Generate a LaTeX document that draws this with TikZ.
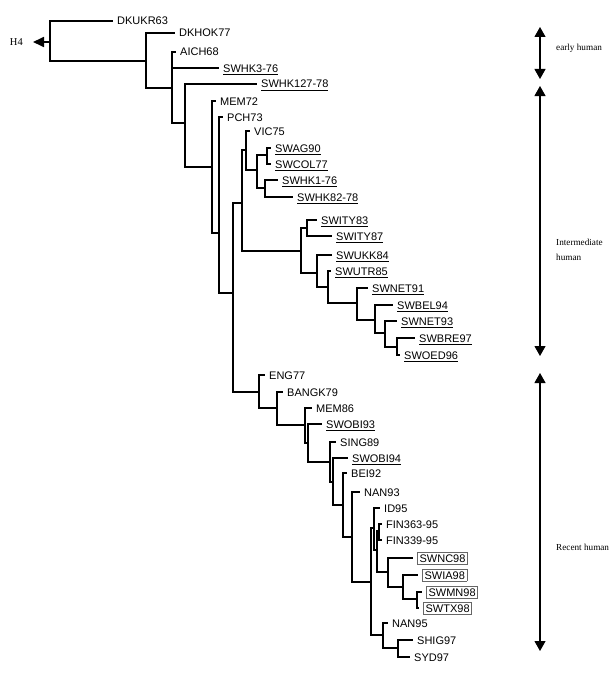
\documentclass[tikz,border=0pt]{standalone}
\usepackage{fontspec}
\setmainfont{Liberation Sans}
\newfontfamily\serifrm{Liberation Serif}
\usetikzlibrary{arrows.meta}
\newsavebox\ulnbox
\newcommand\uln[1]{\sbox\ulnbox{#1}\rlap{\rule[-2.6pt]{\wd\ulnbox}{0.8pt}}\usebox\ulnbox}
\newcommand\bxd[1]{{\setlength\fboxsep{1.8pt}\setlength\fboxrule{0.6pt}\fcolorbox{black!60}{white}{#1}}}
\begin{document}
\begin{tikzpicture}[x=1pt,y=-1pt,
  br/.style={line width=1.7pt},
  leaf/.style={anchor=west, inner xsep=4pt, inner ysep=0pt, text height=8pt, text depth=0pt, font=\fontsize{11}{13}\selectfont},
  side/.style={anchor=west, inner sep=0pt, align=left, font=\serifrm\fontsize{9.2}{15}\selectfont},
  rarrow/.style={line width=1.1pt, {Triangle[length=10pt,width=11pt]}-{Triangle[length=10pt,width=11pt]}}]
\useasboundingbox (0,0) rectangle (610,677);

% internal nodes
\coordinate (root) at (50,42);
\coordinate (A) at (146,61);
\coordinate (B) at (172,88);
\coordinate (C) at (185,123);
\coordinate (D) at (212,167);
\coordinate (E) at (219,233);
\coordinate (F) at (233,293);
\coordinate (G) at (242,203);
\coordinate (V) at (246,150);
\coordinate (W) at (257,170);
\coordinate (X) at (267,155);
\coordinate (Y) at (265,188);
\coordinate (I) at (301,251);
\coordinate (J) at (307,228);
\coordinate (K) at (317,273);
\coordinate (L) at (328,287);
\coordinate (M) at (357,303);
\coordinate (N) at (375,320);
\coordinate (O) at (385,333);
\coordinate (P9) at (397,347);
\coordinate (P) at (259,392);
\coordinate (Q) at (277,408);
\coordinate (R) at (305,425);
\coordinate (R2) at (308,443);
\coordinate (S) at (330,462);
\coordinate (S2) at (333,482);
\coordinate (T) at (343,505);
\coordinate (U) at (352,537);
\coordinate (V2) at (371,582);
\coordinate (W2) at (374,528);
\coordinate (W3) at (377,550);
\coordinate (F2) at (379,531);
\coordinate (SA) at (388,572);
\coordinate (SB) at (403,587);
\coordinate (SC) at (417,599);
\coordinate (Z) at (383,635);
\coordinate (Z2) at (398,648);

% leaves
\node[leaf] (dkukr) at (113,21) {DKUKR63};
\node[leaf] (dkhok) at (175,33) {DKHOK77};
\node[leaf] (aich) at (176,52) {AICH68};
\node[leaf] (swhk3) at (219,68) {\uln{SWHK3-76}};
\node[leaf] (swhk127) at (257,84) {\uln{SWHK127-78}};
\node[leaf] (mem72) at (216,101) {MEM72};
\node[leaf] (pch) at (223,117) {PCH73};
\node[leaf] (vic) at (250,131) {VIC75};
\node[leaf] (swag) at (271,148) {\uln{SWAG90}};
\node[leaf] (swcol) at (271,164) {\uln{SWCOL77}};
\node[leaf] (swhk1) at (278,180) {\uln{SWHK1-76}};
\node[leaf] (swhk82) at (293,197) {\uln{SWHK82-78}};
\node[leaf] (swity83) at (317,220) {\uln{SWITY83}};
\node[leaf] (swity87) at (332,236) {\uln{SWITY87}};
\node[leaf] (swukk) at (332,255) {\uln{SWUKK84}};
\node[leaf] (swutr) at (331,271) {\uln{SWUTR85}};
\node[leaf] (swnet91) at (368,288) {\uln{SWNET91}};
\node[leaf] (swbel) at (393,305) {\uln{SWBEL94}};
\node[leaf] (swnet93) at (397,321) {\uln{SWNET93}};
\node[leaf] (swbre) at (415,338) {\uln{SWBRE97}};
\node[leaf] (swoed) at (400,355) {\uln{SWOED96}};
\node[leaf] (eng) at (265,375) {ENG77};
\node[leaf] (bangk) at (283,392) {BANGK79};
\node[leaf] (mem86) at (312,408) {MEM86};
\node[leaf] (swobi93) at (322,424) {\uln{SWOBI93}};
\node[leaf] (sing) at (336,442) {SING89};
\node[leaf] (swobi94) at (348,458) {\uln{SWOBI94}};
\node[leaf] (bei) at (347,473) {BEI92};
\node[leaf] (nan93) at (360,492) {NAN93};
\node[leaf] (id95) at (380,508) {ID95};
\node[leaf] (fin363) at (382,524) {FIN363-95};
\node[leaf] (fin339) at (382,540) {FIN339-95};
\node[leaf] (swnc) at (413,558) {\bxd{SWNC98}};
\node[leaf] (swia) at (418,575) {\bxd{SWIA98}};
\node[leaf] (swmn) at (422,592) {\bxd{SWMN98}};
\node[leaf] (swtx) at (419,608) {\bxd{SWTX98}};
\node[leaf] (nan95) at (388,623) {NAN95};
\node[leaf] (shig) at (413,640) {SHIG97};
\node[leaf] (syd) at (410,657) {SYD97};

% outgroup arrow
\node[anchor=east, inner xsep=10pt, inner ysep=0pt, font=\serifrm\fontsize{10.5}{12}\selectfont] (h4) at (33,42) {H4};
\draw[br, -{Triangle[length=11pt,width=10pt]}] (root) -- (h4.east);

% branches
\draw[br] (root) |- (dkukr.west);
\draw[br] (root) |- (A);
\draw[br] (A) |- (dkhok.west);
\draw[br] (A) |- (B);
\draw[br] (B) |- (aich.west);
\draw[br] (B) |- (swhk3.west);
\draw[br] (B) |- (C);
\draw[br] (C) |- (swhk127.west);
\draw[br] (C) |- (D);
\draw[br] (D) |- (mem72.west);
\draw[br] (D) |- (E);
\draw[br] (E) |- (pch.west);
\draw[br] (E) |- (F);
\draw[br] (F) |- (G);
\draw[br] (F) |- (P);
\draw[br] (G) |- (V);
\draw[br] (G) |- (I);
\draw[br] (V) |- (vic.west);
\draw[br] (V) |- (W);
\draw[br] (W) |- (X);
\draw[br] (W) |- (Y);
\draw[br] (X) |- (swag.west);
\draw[br] (X) |- (swcol.west);
\draw[br] (Y) |- (swhk1.west);
\draw[br] (Y) |- (swhk82.west);
\draw[br] (I) |- (J);
\draw[br] (I) |- (K);
\draw[br] (J) |- (swity83.west);
\draw[br] (J) |- (swity87.west);
\draw[br] (K) |- (swukk.west);
\draw[br] (K) |- (L);
\draw[br] (L) |- (swutr.west);
\draw[br] (L) |- (M);
\draw[br] (M) |- (swnet91.west);
\draw[br] (M) |- (N);
\draw[br] (N) |- (swbel.west);
\draw[br] (N) |- (O);
\draw[br] (O) |- (swnet93.west);
\draw[br] (O) |- (P9);
\draw[br] (P9) |- (swbre.west);
\draw[br] (P9) |- (swoed.west);
\draw[br] (P) |- (eng.west);
\draw[br] (P) |- (Q);
\draw[br] (Q) |- (bangk.west);
\draw[br] (Q) |- (R);
\draw[br] (R) |- (mem86.west);
\draw[br] (R) |- (R2);
\draw[br] (R2) |- (swobi93.west);
\draw[br] (R2) |- (S);
\draw[br] (S) |- (sing.west);
\draw[br] (S) |- (S2);
\draw[br] (S2) |- (swobi94.west);
\draw[br] (S2) |- (T);
\draw[br] (T) |- (bei.west);
\draw[br] (T) |- (U);
\draw[br] (U) |- (nan93.west);
\draw[br] (U) |- (V2);
\draw[br] (V2) |- (W2);
\draw[br] (V2) |- (Z);
\draw[br] (W2) |- (id95.west);
\draw[br] (W2) |- (W3);
\draw[br] (W3) |- (F2);
\draw[br] (W3) |- (SA);
\draw[br] (F2) |- (fin363.west);
\draw[br] (F2) |- (fin339.west);
\draw[br] (SA) |- (swnc.west);
\draw[br] (SA) |- (SB);
\draw[br] (SB) |- (swia.west);
\draw[br] (SB) |- (SC);
\draw[br] (SC) |- (swmn.west);
\draw[br] (SC) |- (swtx.west);
\draw[br] (Z) |- (nan95.west);
\draw[br] (Z) |- (Z2);
\draw[br] (Z2) |- (shig.west);
\draw[br] (Z2) |- (syd.west);

% group arrows
\coordinate (e1) at (540,27);
\coordinate (e2) at (540,79);
\coordinate (i1) at (540,86);
\coordinate (i2) at (540,356);
\coordinate (r1) at (540,373);
\coordinate (r2) at (540,651);
\draw[rarrow] (e1) -- (e2);
\draw[rarrow] (i1) -- (i2);
\draw[rarrow] (r1) -- (r2);
\node[side] (early) at (556,48) {early human};
\node[side] (inter) at (556,250) {Intermediate\\human};
\node[side] (recent) at (556,547) {Recent human};
\end{tikzpicture}
\end{document}
